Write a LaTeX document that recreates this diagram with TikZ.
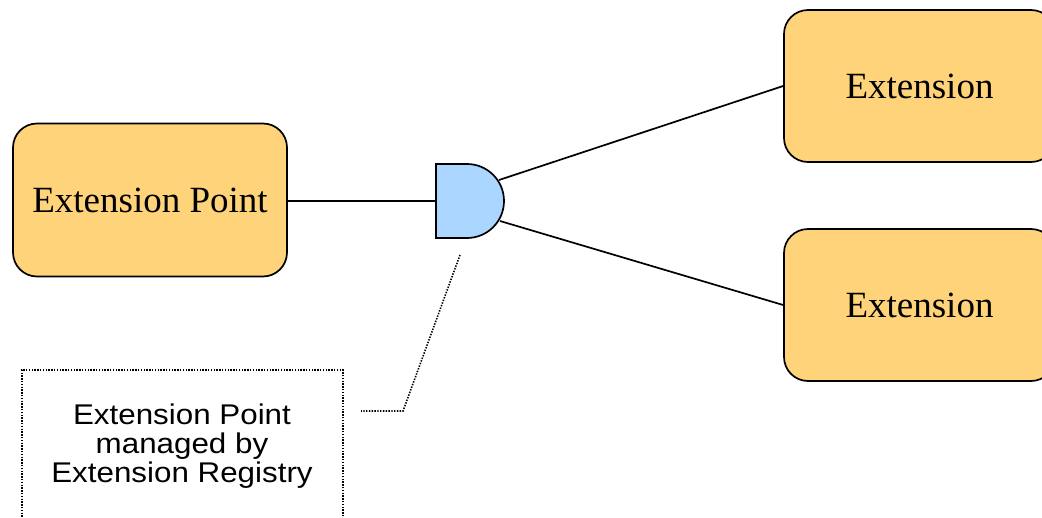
\documentclass[tikz,border=0pt]{standalone}
\usepackage{fontspec}
\setmainfont{Liberation Serif}
\newfontfamily\arialf{Liberation Sans}
\definecolor{boxfill}{RGB}{254,211,122}
\definecolor{gatefill}{RGB}{170,214,255}
\begin{document}
\begin{tikzpicture}[x=1pt,y=-1pt,
  box/.style={draw, line width=1.7pt, fill=boxfill, rounded corners=24pt,
    minimum width=274pt, minimum height=153pt, inner sep=0pt,
    font=\fontsize{37}{40}\selectfont},
  wire/.style={line width=1.7pt},
  dots/.style={line width=1.6pt, dash pattern=on 1.4pt off 1.4pt},
  notetext/.style={font=\arialf\fontsize{28.5}{29}\selectfont, align=center, inner sep=0pt, xscale=1.1}]
\useasboundingbox (0,0) rectangle (1042,517);
\clip (0,0) rectangle (1042,517);
\node[box] (ep) at (150,200) {Extension Point};
\node[box, minimum width=271pt, minimum height=152pt] (ext1) at (919.5,86) {Extension};
\node[box, minimum width=271pt, minimum height=152pt] (ext2) at (919.5,305) {Extension};
% gate
\node[inner sep=0pt, outer sep=0pt, minimum width=68pt, minimum height=74pt] (gate) at (470,201) {};
\draw[wire, fill=gatefill, line join=miter] (gate.north west) -- (467,164) arc[start angle=90, end angle=-90, radius=37pt] -- (gate.south west) -- cycle;
\coordinate (g1) at (499,180);
\coordinate (g2) at (500,221);
\draw[wire] (ep.east |- gate.west) -- (gate.west);
\draw[wire] (g1) -- (ext1.west);
\draw[wire] (g2) -- (ext2.west);
% note
\node[draw, dots, minimum width=321pt, minimum height=170pt, anchor=north west, inner sep=0pt] (notebox) at (21,369) {};
\node[notetext] (note) at (182,446) {Extension Point\\managed by\\Extension Registry};
\coordinate (l1) at (460,255);
\coordinate (l2) at (403,411);
\coordinate (l3) at (361,411);
\draw[dots] (l1) -- (l2) -- (l3);
\end{tikzpicture}
\end{document}
